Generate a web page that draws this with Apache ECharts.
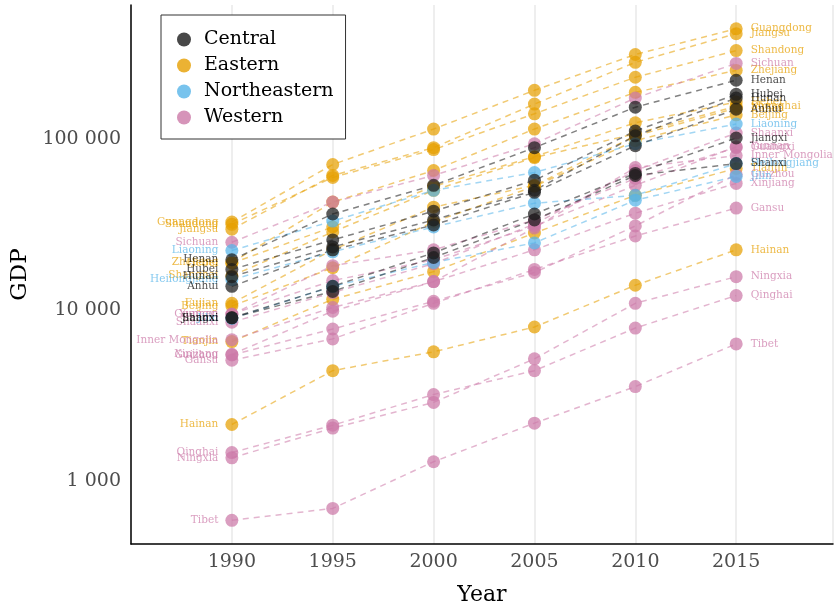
<!DOCTYPE html>
<html>
<head>
<meta charset="utf-8">
<script src="https://cdn.jsdelivr.net/npm/echarts@6/dist/echarts.min.js"></script>
<style>
  html, body { margin: 0; padding: 0; background: #fff; }
  #chart { width: 836px; height: 611px; }
</style>
</head>
<body>
<div id="chart"></div>
<script>
// ---- data (GDP) ----
const years = [1990, 1995, 2000, 2005, 2010, 2015];
const yearTicks = [1990, 1995, 2000, 2005, 2010, 2015];
const gdpTicks = [1000, 10000, 100000];
const regions = ['Central', 'Eastern', 'Northeastern', 'Western'];

// Central
const henan   = [19600, 36300, 53400, 88700, 153000, 220000];
const hubei   = [17200, 25600, 37700, 57100, 111000, 182000];
const hunan   = [15600, 23300, 33500, 49900, 104000, 173000];
const anhui   = [13700, 22400, 31300, 48600, 91100, 149000];
const jiangxi = [8960, 13700, 21500, 36300, 62700, 101000];
const shanxi  = [8970, 12800, 20200, 33500, 61000, 71600];
// Eastern
const guangdong = [32600, 70700, 114000, 192000, 311000, 440000];
const jiangsu   = [29600, 61000, 88700, 159500, 280000, 412000];
const shandong  = [31600, 59400, 86400, 140000, 229000, 328000];
const zhejiang  = [18900, 42600, 65200, 114000, 187000, 251000];
const hebei     = [18700, 30500, 52700, 78600, 124000, 164000];
const shanghai  = [15800, 28500, 49900, 77600, 107000, 155000];
const fujian    = [10900, 22400, 39800, 53400, 104000, 151000];
const beijing   = [10500, 17600, 32600, 52700, 97400, 138000];
const tianjin   = [6510, 11500, 16700, 28100, 46700, 67000];
const hainan    = [2130, 4400, 5670, 7920, 13900, 22400];
// Northeastern
const liaoning     = [22200, 33000, 49900, 63500, 93500, 122000];
const heilongjiang = [15000, 21800, 30500, 42000, 46700, 71600];
const jilin        = [8890, 13700, 18900, 24600, 43700, 60200];
// Western
const sichuan       = [24800, 42600, 61000, 93500, 173000, 276000];
const guangxi       = [9390, 18100, 22400, 33500, 58600, 88700];
const yunnan        = [9440, 14800, 19600, 30900, 53400, 89900];
const shaanxi       = [8450, 12600, 18600, 31700, 65200, 108000];
const innerMongolia = [6670, 10300, 14600, 30100, 67900, 79700];
const xinjiang      = [5480, 9800, 14600, 22400, 36700, 54800];
const guizhou       = [5440, 7710, 11200, 16500, 30900, 61800];
const gansu         = [5060, 6750, 10900, 17200, 27000, 39300];
const qinghai       = [1460, 2110, 3190, 4400, 7810, 12100];
const ningxia       = [1360, 2030, 2870, 5160, 10900, 15600];
const tibet         = [586, 688, 1290, 2170, 3550, 6310];

const provinces = [
  ['Guangdong', 'Eastern', guangdong], ['Jiangsu', 'Eastern', jiangsu],
  ['Shandong', 'Eastern', shandong], ['Zhejiang', 'Eastern', zhejiang],
  ['Hebei', 'Eastern', hebei], ['Shanghai', 'Eastern', shanghai],
  ['Fujian', 'Eastern', fujian], ['Beijing', 'Eastern', beijing],
  ['Tianjin', 'Eastern', tianjin], ['Hainan', 'Eastern', hainan],
  ['Sichuan', 'Western', sichuan], ['Guangxi', 'Western', guangxi],
  ['Yunnan', 'Western', yunnan], ['Shaanxi', 'Western', shaanxi],
  ['Inner Mongolia', 'Western', innerMongolia], ['Xinjiang', 'Western', xinjiang],
  ['Guizhou', 'Western', guizhou], ['Gansu', 'Western', gansu],
  ['Qinghai', 'Western', qinghai], ['Ningxia', 'Western', ningxia],
  ['Tibet', 'Western', tibet],
  ['Liaoning', 'Northeastern', liaoning], ['Heilongjiang', 'Northeastern', heilongjiang],
  ['Jilin', 'Northeastern', jilin],
  ['Henan', 'Central', henan], ['Hubei', 'Central', hubei], ['Hunan', 'Central', hunan],
  ['Anhui', 'Central', anhui], ['Jiangxi', 'Central', jiangxi], ['Shanxi', 'Central', shanxi]
];

// ---- styling ----
const regionColor = {
  Central: '#1a1a1a',
  Eastern: '#E69F00',
  Northeastern: '#56B4E9',
  Western: '#CC79A7'
};
const labelColor = {
  Central: '#000000',
  Eastern: '#E69F00',
  Northeastern: '#56B4E9',
  Western: '#CC79A7'
};
const FONT = '"DejaVu Serif", "Liberation Serif", serif';

function fmtThousands(v) {
  const s = String(Math.round(v));
  return s.replace(/\B(?=(\d{3})+(?!\d))/g, ' ');
}

const series = [];
provinces.forEach(([name, region, vals]) => {
  const data = vals.map((v, i) => {
    const item = { value: [years[i], v] };
    if (i === 0) {
      item.label = { show: true, position: 'left', distance: 7, formatter: name };
    } else if (i === vals.length - 1) {
      item.label = { show: true, position: 'right', distance: 8, formatter: name };
    }
    return item;
  });
  series.push({
    type: 'line',
    name: name,
    data: data,
    symbol: 'circle',
    symbolSize: 13,
    z: 2,
    itemStyle: { color: regionColor[region], opacity: 0.72 },
    lineStyle: { color: regionColor[region], type: [6, 5], width: 1.5, opacity: 0.55 },
    label: {
      show: false,
      color: labelColor[region],
      fontFamily: FONT,
      fontSize: 10.5
    },
    emphasis: { disabled: true },
    silent: true
  });
});
// legend-only series
regions.forEach(r => {
  series.push({
    type: 'scatter',
    name: r,
    data: [],
    symbol: 'circle',
    itemStyle: { color: regionColor[r], opacity: 0.8 }
  });
});

const chart = echarts.init(document.getElementById('chart'), null, { renderer: 'canvas' });
chart.setOption({
  animation: false,
  backgroundColor: '#ffffff',
  grid: { left: 131, right: 0, top: 5, bottom: 62, containLabel: false },
  legend: {
    data: regions,
    orient: 'vertical',
    left: 161,
    top: 15,
    padding: [15, 12, 12, 16],
    itemWidth: 30,
    itemHeight: 14,
    itemGap: 7,
    icon: 'circle',
    backgroundColor: '#ffffff',
    borderColor: '#333333',
    borderWidth: 1,
    textStyle: { fontFamily: FONT, fontSize: 19, color: '#000000' }
  },
  xAxis: {
    type: 'value',
    min: 1985,
    max: 2019.8,
    interval: 5,
    name: 'Year',
    nameLocation: 'middle',
    nameGap: 40,
    nameTextStyle: { fontFamily: FONT, fontSize: 22, color: '#000000' },
    axisLine: { show: true, lineStyle: { color: '#000000', width: 1.5 } },
    axisTick: { show: false },
    axisLabel: {
      fontFamily: FONT, fontSize: 19, color: '#4d4d4d', margin: 9,
      formatter: v => (yearTicks.indexOf(Math.round(v)) >= 0 ? String(Math.round(v)) : '')
    },
    splitLine: { show: true, lineStyle: { color: '#e8e8e8', width: 1.5 } }
  },
  yAxis: {
    type: 'log',
    logBase: 10,
    min: 426,
    max: 606000,
    name: 'GDP',
    nameLocation: 'middle',
    nameRotate: 90,
    nameGap: 96,
    nameTextStyle: { fontFamily: FONT, fontSize: 23, color: '#000000' },
    axisLine: { show: true, lineStyle: { color: '#000000', width: 1.5 } },
    axisTick: { show: false },
    splitLine: { show: false },
    axisLabel: {
      fontFamily: FONT, fontSize: 19, color: '#4d4d4d', margin: 10,
      showMinLabel: false, showMaxLabel: false,
      formatter: v => {
        const r = Math.round(v);
        return gdpTicks.indexOf(r) >= 0 ? fmtThousands(r) : '';
      }
    }
  },
  series: series
});
</script>
</body>
</html>
